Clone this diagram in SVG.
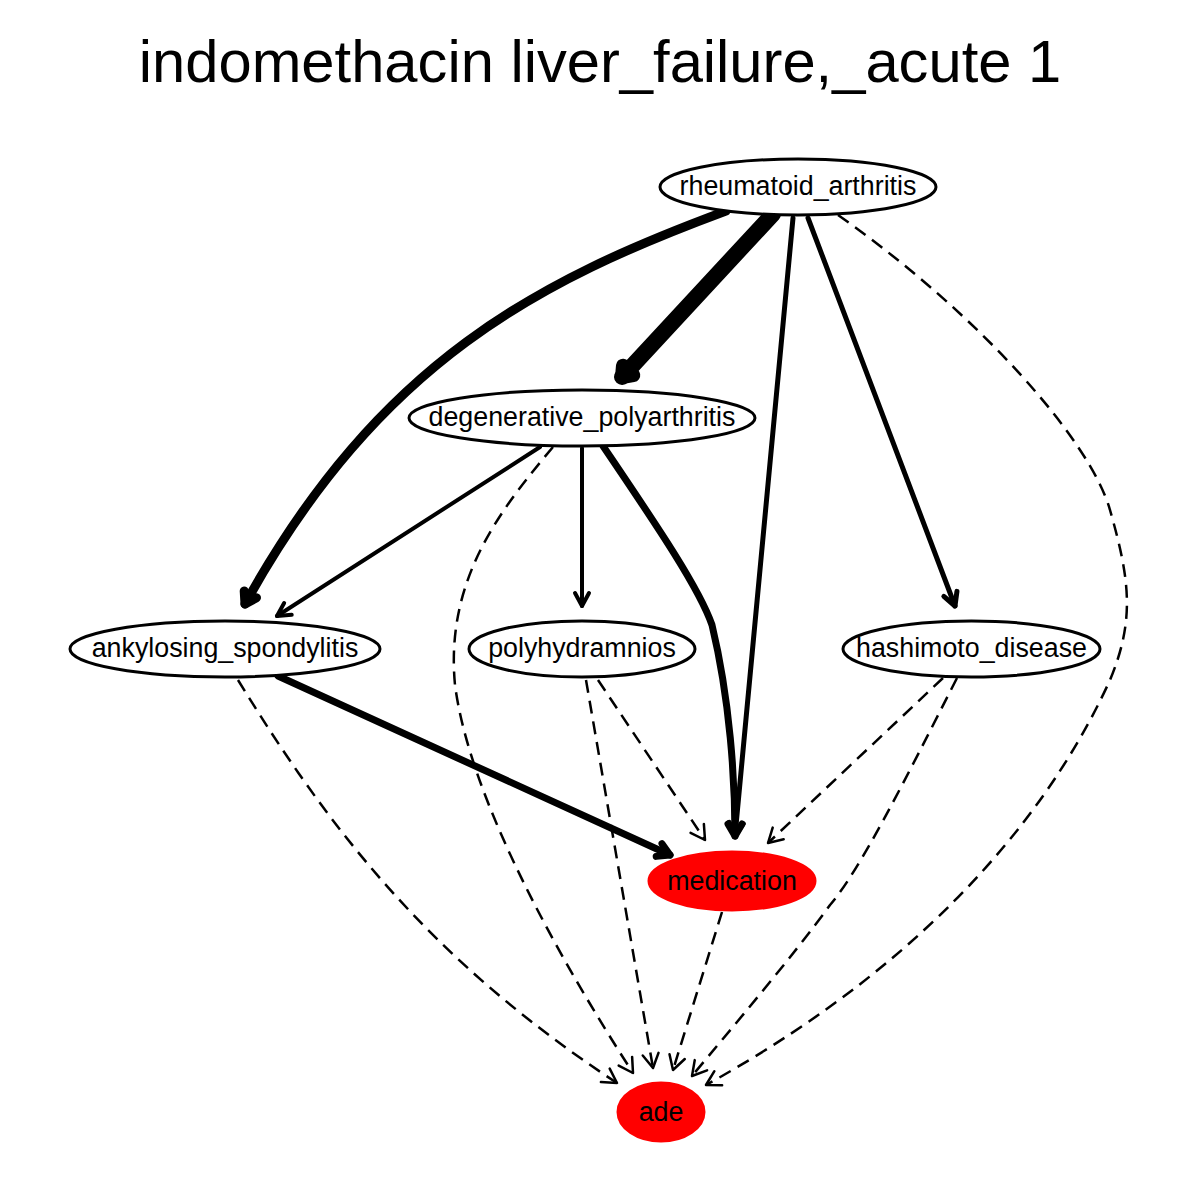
<svg xmlns="http://www.w3.org/2000/svg" width="1200" height="1200" viewBox="0 0 1200 1200">
<style>
.node ellipse{fill:#fff;stroke:#000;stroke-width:3}
.node.red ellipse{fill:#ff0000;stroke:#ff0000}
.node text{font-family:"Liberation Sans",Arial,sans-serif;font-size:26.8px;text-anchor:middle;dominant-baseline:central;fill:#000}
.title{font-family:"Liberation Sans",Arial,sans-serif;font-size:59.7px;text-anchor:middle;fill:#000}
.e{fill:none;stroke:#000;stroke-linecap:round;stroke-linejoin:round}
.d{stroke-width:2.5;stroke-dasharray:13 8;stroke-linecap:butt;marker-end:url(#md)}
.w4{stroke-width:4;marker-end:url(#m4)}
.w5{stroke-width:5;marker-end:url(#m5)}
.w7{stroke-width:7;marker-end:url(#m7)}
.w9{stroke-width:9;marker-end:url(#m9)}
.w16{stroke-width:16;marker-end:url(#m16)}
marker path{fill:none;stroke:#000;stroke-linecap:round;stroke-linejoin:round;stroke-dasharray:none}
</style>
<defs>
<marker id="md" markerUnits="userSpaceOnUse" orient="auto" overflow="visible" markerWidth="1" markerHeight="1" refX="0" refY="0"><path d="M-14,-8 L0,0 L-14,8" stroke-width="2.5"/></marker>
<marker id="m4" markerUnits="userSpaceOnUse" orient="auto" overflow="visible" markerWidth="1" markerHeight="1" refX="0" refY="0"><path d="M-13,-7 L0,0 L-13,7" stroke-width="4"/></marker>
<marker id="m5" markerUnits="userSpaceOnUse" orient="auto" overflow="visible" markerWidth="1" markerHeight="1" refX="0" refY="0"><path d="M-13,-7 L0,0 L-13,7" stroke-width="5"/></marker>
<marker id="m7" markerUnits="userSpaceOnUse" orient="auto" overflow="visible" markerWidth="1" markerHeight="1" refX="0" refY="0"><path d="M-12,-7 L0,0 L-12,7" stroke-width="7"/></marker>
<marker id="m9" markerUnits="userSpaceOnUse" orient="auto" overflow="visible" markerWidth="1" markerHeight="1" refX="0" refY="0"><path d="M-11,-7 L0,0 L-11,7" stroke-width="9"/></marker>
<marker id="m16" markerUnits="userSpaceOnUse" orient="auto" overflow="visible" markerWidth="1" markerHeight="1" refX="0" refY="0"><path d="M-9,-7 L0,0 L-9,7" stroke-width="14"/></marker>
</defs>
<rect width="1200" height="1200" fill="#fff"/>
<text class="title" x="600" y="82">indomethacin liver_failure,_acute 1</text>
<g id="connectors">
<path class="e w9" d="M726,211 C540,280 380,360 245,604"/>
<path class="e w16" d="M773,214 L622,377"/>
<path class="e w5" d="M793,218 L735,836"/>
<path class="e w5" d="M808,218 L955,606"/>
<path class="e d" d="M838,215 C980,315 1090,440 1110,510 C1130,580 1135,620 1110,680 C1060,790 950,950 706,1085"/>
<path class="e w4" d="M540,447 L277,616"/>
<path class="e d" d="M553,447 C500,510 445,580 455,685 C470,800 560,960 633,1073"/>
<path class="e w4" d="M582,448 L582,606"/>
<path class="e w7" d="M603,446 C660,530 700,590 712,625 C730,700 735,780 735,836"/>
<path class="e w7" d="M278,676 L670,855"/>
<path class="e d" d="M238,680 C330,830 430,960 617,1083"/>
<path class="e d" d="M598,680 L705,840"/>
<path class="e d" d="M586,680 L653,1068"/>
<path class="e d" d="M943,678 L768,843"/>
<path class="e d" d="M957,678 C905,780 860,870 830,905 C790,960 730,1030 692,1076"/>
<path class="e d" d="M722,912 L673,1070"/>
</g>
<g id="rheumatoid_arthritis" class="node"><ellipse cx="798" cy="187" rx="138" ry="28"/><text x="798" y="186">rheumatoid_arthritis</text></g>
<g id="degenerative_polyarthritis" class="node"><ellipse cx="582" cy="418" rx="173" ry="28"/><text x="582" y="417">degenerative_polyarthritis</text></g>
<g id="ankylosing_spondylitis" class="node"><ellipse cx="225" cy="649" rx="155" ry="28"/><text x="225" y="648">ankylosing_spondylitis</text></g>
<g id="polyhydramnios" class="node"><ellipse cx="582" cy="649" rx="113" ry="28"/><text x="582" y="648">polyhydramnios</text></g>
<g id="hashimoto_disease" class="node"><ellipse cx="971.5" cy="649" rx="128.5" ry="28"/><text x="971.5" y="648">hashimoto_disease</text></g>
<g id="medication" class="node red"><ellipse cx="732" cy="881" rx="83" ry="29"/><text x="732" y="881">medication</text></g>
<g id="ade" class="node red"><ellipse cx="661" cy="1112" rx="43" ry="29"/><text x="661" y="1112">ade</text></g>
</svg>
